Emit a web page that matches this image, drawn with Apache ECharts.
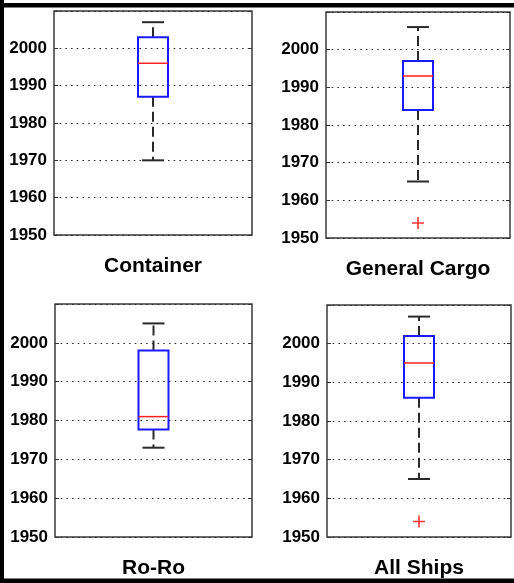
<!DOCTYPE html>
<html>
<head>
<meta charset="utf-8">
<script src="https://cdn.jsdelivr.net/npm/echarts@6/dist/echarts.min.js"></script>
<style>
html,body{margin:0;padding:0;background:#fff;}
#chart{width:514px;height:583px;}
</style>
</head>
<body>
<div id="chart"></div>
<script>
// ---- data ----
const categories = ['Container', 'General Cargo', 'Ro-Ro', 'All Ships'];
const whiskerLow  = [1970, 1965, 1973, 1965];
const q1          = [1987, 1984, 1977.7, 1986];
const median      = [1996, 1993, 1981, 1995];
const q3          = [2003, 1997, 1998, 2002];
const whiskerHigh = [2007, 2006, 2005, 2007];
const outliers    = [[], [1954], [], [1954]];
const yTicks      = [1950, 1960, 1970, 1980, 1990, 2000];

// ---- layout ----
const grids = [
  {left: 54,  top: 11,  width: 198, height: 224},
  {left: 326, top: 12,  width: 184, height: 226},
  {left: 55,  top: 304, width: 197, height: 233},
  {left: 327, top: 305, width: 184, height: 232}
];
const FONT = '"Liberation Sans", Arial, sans-serif';

const option = {
  animation: false,
  backgroundColor: '#fff',
  grid: grids.map(g => Object.assign({show: true, borderColor: '#3a3a3a', borderWidth: 1.5, backgroundColor: '#fff'}, g)),
  xAxis: categories.map((c, i) => ({
    type: 'category', gridIndex: i, data: [c],
    axisLine: {show: false}, axisTick: {show: false}, splitLine: {show: false},
    axisLabel: {show: true, margin: 21, color: '#000', fontFamily: FONT, fontWeight: 'bold', fontSize: 21, verticalAlign: 'top'}
  })),
  yAxis: [],
  series: [],
  graphic: [
    {type: 'rect', shape: {x: 0, y: 3, width: 514, height: 4.5}, style: {fill: '#000'}, z: 100},
    {type: 'rect', shape: {x: 0, y: 0, width: 4, height: 583}, style: {fill: '#000'}, z: 100},
    {type: 'rect', shape: {x: 0, y: 578.5, width: 514, height: 5}, style: {fill: '#000'}, z: 100}
  ]
};

categories.forEach((c, i) => {
  option.yAxis.push({
    type: 'value', gridIndex: i, min: yTicks[0], max: 2010, interval: 10, position: 'left',
    axisLine: {show: false},
    axisTick: {show: true, inside: true, length: 4, lineStyle: {color: '#333'}},
    axisLabel: {
      margin: 7, color: '#000', fontFamily: FONT, fontWeight: 'bold', fontSize: 17,
      formatter: v => (yTicks.indexOf(v) >= 0 ? String(v) : '')
    },
    splitLine: {show: true, lineStyle: {color: '#222', type: [1.5, 4.2], width: 1.2}}
  });
});
categories.forEach((c, i) => {
  option.yAxis.push({
    type: 'value', gridIndex: i, min: yTicks[0], max: 2010, interval: 10, position: 'right',
    axisLine: {show: false},
    axisTick: {show: true, inside: true, length: 4, lineStyle: {color: '#333'}},
    axisLabel: {show: false},
    splitLine: {show: false}
  });
});

categories.forEach((c, i) => {
  option.series.push({
    type: 'custom',
    xAxisIndex: i, yAxisIndex: i,
    data: [[0, whiskerLow[i], q1[i], median[i], q3[i], whiskerHigh[i]]],
    renderItem: function (params, api) {
      const x = api.value(0);
      const pLow = api.coord([x, api.value(1)]);
      const pQ1 = api.coord([x, api.value(2)]);
      const pMed = api.coord([x, api.value(3)]);
      const pQ3 = api.coord([x, api.value(4)]);
      const pHigh = api.coord([x, api.value(5)]);
      const cx = pLow[0];
      const bw = 30, cw = 22;
      const dash = {stroke: '#2a2a2a', lineWidth: 2, lineDash: [10, 5]};
      const solid = {stroke: '#2a2a2a', lineWidth: 2};
      return {
        type: 'group',
        children: [
          {type: 'line', shape: {x1: cx, y1: pQ3[1], x2: cx, y2: pHigh[1]}, style: dash},
          {type: 'line', shape: {x1: cx, y1: pQ1[1], x2: cx, y2: pLow[1]}, style: dash},
          {type: 'line', shape: {x1: cx - cw / 2, y1: pHigh[1], x2: cx + cw / 2, y2: pHigh[1]}, style: solid},
          {type: 'line', shape: {x1: cx - cw / 2, y1: pLow[1], x2: cx + cw / 2, y2: pLow[1]}, style: solid},
          {type: 'rect', shape: {x: cx - bw / 2, y: pQ3[1], width: bw, height: pQ1[1] - pQ3[1]},
            style: {fill: 'none', stroke: '#1a1aff', lineWidth: 2}},
          {type: 'line', shape: {x1: cx - bw / 2, y1: pMed[1], x2: cx + bw / 2, y2: pMed[1]},
            style: {stroke: '#ff2020', lineWidth: 1.5}}
        ]
      };
    },
    z: 5
  });
  if (outliers[i].length) {
    option.series.push({
      type: 'scatter',
      xAxisIndex: i, yAxisIndex: i,
      data: outliers[i].map(v => [0, v]),
      symbol: 'path://M0,5L10,5M5,0L5,10',
      symbolSize: 12,
      itemStyle: {color: 'none', borderColor: '#ff0000', borderWidth: 1.6},
      z: 6
    });
  }
});

const chart = echarts.init(document.getElementById('chart'), null, {renderer: 'canvas'});
chart.setOption(option);
</script>
</body>
</html>
